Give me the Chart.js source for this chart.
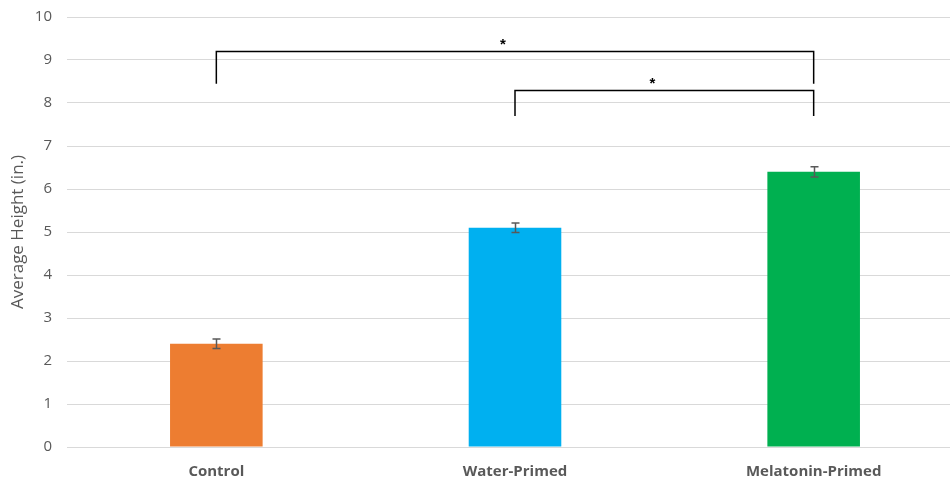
<!DOCTYPE html>
<html>
<head>
<meta charset="utf-8">
<script src="https://cdn.jsdelivr.net/npm/chart.js@4"></script>
<style>
  html, body { margin: 0; padding: 0; background: #ffffff; overflow: hidden; }
  #wrap { width: 963px; height: 481px; }
</style>
</head>
<body>
<div id="wrap"><canvas id="c" width="963" height="481"></canvas></div>
<script>
// Treatment groups and their mean plant heights
const categories = ["Control", "Water-Primed", "Melatonin-Primed"];
const heights = [2.4, 5.1, 6.4];
const errors = [0.11, 0.11, 0.12];
const barColors = ["#ED7D31", "#00B0F0", "#00B050"];
const yTicks = [0, 1, 2, 3, 4, 5, 6, 7, 8, 9, 10];

// Significance brackets: [fromIndex, toIndex, barTop, legBottom, label]
const bracketFrom = [0, 1];
const bracketTo = [2, 2];
const bracketTop = [9.2, 8.3];
const bracketLegEnd = [8.45, 7.7];
const bracketLabel = ["*", "*"];

const errorBarPlugin = {
  id: "errorBars",
  afterDatasetsDraw(chart) {
    const ctx = chart.ctx;
    const y = chart.scales.y;
    const meta = chart.getDatasetMeta(0);
    ctx.save();
    ctx.strokeStyle = "#595959";
    ctx.lineWidth = 1.5;
    meta.data.forEach((bar, i) => {
      const x = Math.round(bar.x) + 0.5;
      const top = y.getPixelForValue(heights[i] + errors[i]);
      const bot = y.getPixelForValue(heights[i] - errors[i]);
      ctx.beginPath();
      ctx.moveTo(x, top); ctx.lineTo(x, bot);
      ctx.moveTo(x - 4, top); ctx.lineTo(x + 4, top);
      ctx.moveTo(x - 4, bot); ctx.lineTo(x + 4, bot);
      ctx.stroke();
    });
    ctx.restore();
  }
};

const bracketPlugin = {
  id: "brackets",
  afterDraw(chart) {
    const ctx = chart.ctx;
    const xs = chart.scales.x;
    const y = chart.scales.y;
    ctx.save();
    ctx.strokeStyle = "#000000";
    ctx.lineWidth = 1.5;
    ctx.fillStyle = "#000000";
    ctx.font = "bold 15px 'Liberation Sans', Arial, sans-serif";
    ctx.textAlign = "center";
    ctx.textBaseline = "middle";
    for (let k = 0; k < bracketFrom.length; k++) {
      const x1 = xs.getPixelForValue(bracketFrom[k]);
      const x2 = xs.getPixelForValue(bracketTo[k]);
      const yt = Math.round(y.getPixelForValue(bracketTop[k])) + 0.5;
      const yb = y.getPixelForValue(bracketLegEnd[k]);
      ctx.beginPath();
      ctx.moveTo(x1, yb); ctx.lineTo(x1, yt); ctx.lineTo(x2, yt); ctx.lineTo(x2, yb);
      ctx.stroke();
      ctx.fillText(bracketLabel[k], (x1 + x2) / 2 - 12, yt - 7);
    }
    ctx.restore();
  }
};

new Chart(document.getElementById("c"), {
  type: "bar",
  data: {
    labels: categories,
    datasets: [{
      data: heights,
      backgroundColor: barColors,
      borderWidth: 0,
      barPercentage: 0.31,
      categoryPercentage: 1.0
    }]
  },
  options: {
    responsive: false,
    animation: false,
    layout: { padding: { top: 17, left: 8, right: 0, bottom: 0 } },
    plugins: { legend: { display: false }, tooltip: { enabled: false } },
    scales: {
      x: {
        grid: { display: false },
        border: { display: false },
        afterFit(scale) { scale.height = 34; },
        ticks: {
          color: "#595959",
          padding: 8,
          maxRotation: 0,
          font: { family: "'Open Sans', sans-serif", size: 15, weight: "bold" }
        }
      },
      y: {
        min: 0,
        max: 10,
        afterBuildTicks(scale) { scale.ticks = yTicks.map(v => ({ value: v })); },
        afterFit(scale) {
          scale.width = 59;
          scale.paddingTop = 0;
          scale.paddingBottom = 0;
        },
        grid: { color: "#d9d9d9", lineWidth: 1, drawTicks: false },
        border: { display: false },
        ticks: {
          color: "#595959",
          padding: 15,
          font: { family: "'Open Sans', sans-serif", size: 15 }
        },
        title: {
          display: true,
          text: "Average Height (in.)",
          color: "#595959",
          padding: 0,
          font: { family: "'Open Sans', sans-serif", size: 17 }
        }
      }
    }
  },
  plugins: [errorBarPlugin, bracketPlugin]
});
</script>
</body>
</html>
